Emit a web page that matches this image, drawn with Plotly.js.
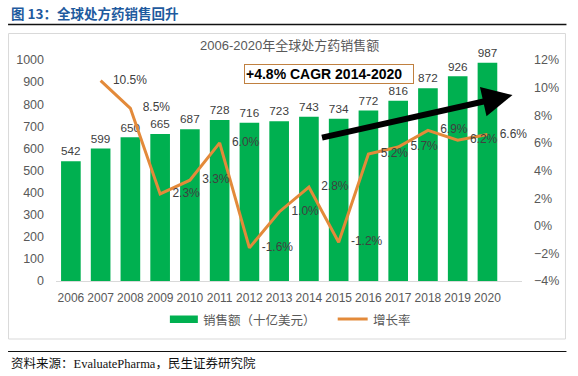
<!DOCTYPE html>
<html>
<head>
<meta charset="utf-8">
<script src="https://cdn.plot.ly/plotly-3.0.1.min.js"></script>
<style>html,body{margin:0;padding:0;background:#fff;}#chart{width:578px;height:376px;}</style>
</head>
<body>
<div id="chart"></div>
<script>
// ---- data ----
const years = ['2006','2007','2008','2009','2010','2011','2012','2013','2014','2015','2016','2017','2018','2019','2020'];
const sales = [542, 599, 650, 665, 687, 728, 716, 723, 743, 734, 772, 816, 872, 926, 987];
const growthYears = ['2007','2008','2009','2010','2011','2012','2013','2014','2015','2016','2017','2018','2019','2020'];
const growth = [10.5, 8.5, 2.3, 3.3, 6.0, -1.6, 1.0, 2.8, -1.2, 5.2, 5.7, 6.9, 6.2, 6.6];
const salesName = '销售额（十亿美元）';
const growthName = '增长率';
const chartTitle = '2006-2020年全球处方药销售额';
const figTitle = '图 13：全球处方药销售回升';
const sourceText = '资料来源：EvaluatePharma，民生证券研究院';
const cagrText = '+4.8% CAGR 2014-2020';

// ---- layout helpers (pixel -> paper) ----
const W = 578, H = 376;
const L = 56, R = 522.5, T = 60, B = 281;
const PX = x => (x - L) / (R - L);
const PY = y => (B - y) / (B - T);

const FONT = 'Liberation Sans, Noto Sans CJK SC, sans-serif';
const CJK = 'Noto Sans CJK SC, Liberation Sans, sans-serif';
const GREEN = '#00B050';
const ORANGE = '#E38A3A';
const GRAY = '#595959';

const barTrace = {
  type: 'bar', x: years, y: sales, name: salesName,
  marker: {color: GREEN},
  text: sales.map(String), textposition: 'outside',
  textfont: {family: FONT, size: 12.5, color: '#404040'},
  cliponaxis: false, hoverinfo: 'skip', showlegend: false
};
const lineTrace = {
  type: 'scatter', mode: 'lines+markers+text', x: growthYears, y: growth, name: growthName,
  yaxis: 'y2',
  line: {color: ORANGE, width: 3},
  marker: {size: 18, color: 'rgba(0,0,0,0)'},
  text: growth.map(v => v.toFixed(1) + '%'), textposition: 'middle right',
  textfont: {family: FONT, size: 12, color: '#404040'},
  cliponaxis: false, hoverinfo: 'skip', showlegend: false
};

const layout = {
  width: W, height: H,
  margin: {l: L, r: W - R, t: T, b: H - B, pad: 0},
  paper_bgcolor: '#fff', plot_bgcolor: 'rgba(0,0,0,0)',
  showlegend: false,
  bargap: 0.34,
  font: {family: FONT, color: GRAY},
  xaxis: {
    type: 'category', showgrid: false, zeroline: false,
    showline: true, linecolor: '#d9d9d9', linewidth: 1,
    ticks: '', tickangle: 0, tickfont: {family: FONT, size: 12, color: GRAY},
    ticklabelstandoff: 6, fixedrange: true
  },
  yaxis: {
    range: [0, 1000], dtick: 100, showgrid: false, zeroline: false, showline: false,
    ticks: '', tickfont: {family: FONT, size: 12.5, color: GRAY},
    ticklabelstandoff: 11, fixedrange: true
  },
  yaxis2: {
    overlaying: 'y', side: 'right', range: [-4, 12], dtick: 2, ticksuffix: '%',
    showgrid: false, zeroline: false, showline: false,
    ticks: '', tickfont: {family: FONT, size: 12.5, color: GRAY},
    ticklabelstandoff: 11, fixedrange: true
  },
  shapes: [
    {type: 'rect', xref: 'paper', yref: 'paper', x0: PX(8.5), x1: PX(566), y0: PY(339), y1: PY(33.5),
     line: {color: '#d9d9d9', width: 1}, fillcolor: 'rgba(0,0,0,0)', layer: 'below'},
    {type: 'line', xref: 'paper', yref: 'paper', x0: PX(8), x1: PX(567), y0: PY(24.5), y1: PY(24.5),
     line: {color: '#111', width: 1.5}},
    {type: 'line', xref: 'paper', yref: 'paper', x0: PX(8), x1: PX(567), y0: PY(351.5), y1: PY(351.5),
     line: {color: '#111', width: 1.2}},
    {type: 'rect', xref: 'paper', yref: 'paper', x0: PX(170), x1: PX(198), y0: PY(323), y1: PY(315.5),
     line: {width: 0}, fillcolor: GREEN},
    {type: 'line', xref: 'paper', yref: 'paper', x0: PX(338), x1: PX(368), y0: PY(319), y1: PY(319),
     line: {color: ORANGE, width: 3}}
  ],
  annotations: [
    {xref: 'paper', yref: 'paper', x: PX(9), y: PY(13), xanchor: 'left', yanchor: 'middle',
     text: '<b>' + figTitle + '</b>', showarrow: false,
     font: {family: CJK, size: 13.5, color: '#1E5A9E'}},
    {xref: 'paper', yref: 'paper', x: PX(290), y: PY(45), xanchor: 'center', yanchor: 'middle',
     text: chartTitle, showarrow: false, font: {family: FONT, size: 13, color: GRAY}},
    {xref: 'paper', yref: 'paper', x: PX(244), y: PY(73.5), xanchor: 'left', yanchor: 'middle',
     text: '<b>' + cagrText + '</b>', showarrow: false, align: 'left', width: 166, height: 16,
     borderpad: 1, bordercolor: '#C08040', borderwidth: 1,
     font: {family: FONT, size: 14, color: '#000'}},
    {xref: 'paper', yref: 'paper', x: PX(513), y: PY(95), axref: 'pixel', ayref: 'pixel',
     ax: -192, ay: 43, text: '', showarrow: true, arrowhead: 2, arrowsize: 1, arrowwidth: 6,
     arrowcolor: '#000'},
    {xref: 'paper', yref: 'paper', x: PX(201), y: PY(319), xanchor: 'left', yanchor: 'middle',
     text: salesName, showarrow: false, font: {family: CJK, size: 12.5, color: GRAY}},
    {xref: 'paper', yref: 'paper', x: PX(371), y: PY(319), xanchor: 'left', yanchor: 'middle',
     text: growthName, showarrow: false, font: {family: CJK, size: 12.5, color: GRAY}},
    {xref: 'paper', yref: 'paper', x: PX(9), y: PY(363), xanchor: 'left', yanchor: 'middle',
     text: sourceText, showarrow: false,
     font: {family: 'Liberation Serif, Noto Sans CJK SC, serif', size: 12.5, color: '#111'}}
  ]
};

Plotly.newPlot('chart', [barTrace, lineTrace], layout, {staticPlot: true, displayModeBar: false});
</script>
</body>
</html>
